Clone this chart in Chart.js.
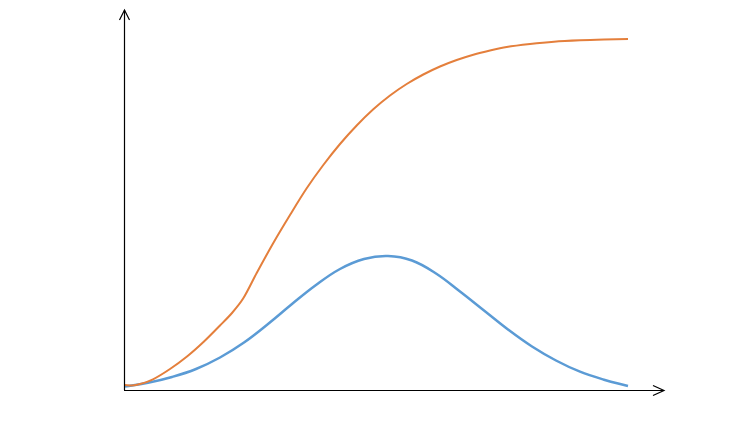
<!DOCTYPE html>
<html>
<head>
<meta charset="utf-8">
<script src="https://cdn.jsdelivr.net/npm/chart.js@4"></script>
<style>
html,body{margin:0;padding:0;background:#fff;}
#wrap{width:735px;height:432px;}
</style>
</head>
<body>
<div id="wrap"><canvas id="c" width="735" height="432"></canvas></div>
<script>
// Values (x along the horizontal axis, y up the vertical axis)
const blueX = [1, 24, 48, 72, 96, 120, 144, 168, 192, 216, 240, 264, 288, 312, 336, 360, 384, 408, 432, 456, 480, 504];
const blueY = [3.5, 7.2, 13, 21, 32.5, 47.5, 66, 86, 105, 121, 131, 134, 129.5, 116.5, 98.5, 79.5, 60.5, 43.5, 29.5, 18.3, 10.3, 4];
const orangeX = [1, 8, 16, 29, 46, 63, 80, 96, 108, 119.3, 132.7, 149.3, 166, 182.7, 199.3, 216, 232.7, 249.3, 266, 282.7, 299.3, 316, 332.7, 349.3, 366, 382.7, 406, 430, 456, 480, 504];
const orangeY = [5, 4.5, 6, 10.7, 21, 33.5, 48.5, 64.5, 77, 91.7, 117, 147, 175, 201.7, 225, 246, 264.5, 280.7, 294.5, 306, 315.5, 323.5, 330, 335.3, 339.5, 343, 346, 348.3, 349.7, 350.5, 351];
const xMax = 540;
const yMax = 380;

const toPts = (xs, ys) => xs.map((x, i) => ({x: x, y: ys[i]}));

const arrowAxes = {
  id: 'arrowAxes',
  afterDraw(chart) {
    const {ctx, chartArea: a} = chart;
    ctx.save();
    ctx.strokeStyle = '#000';
    ctx.lineWidth = 1.2;
    ctx.beginPath();
    ctx.moveTo(a.left + 0.5, a.bottom);
    ctx.lineTo(a.left + 0.5, a.top);
    ctx.moveTo(a.left, a.bottom + 0.5);
    ctx.lineTo(a.right, a.bottom + 0.5);
    ctx.stroke();
    ctx.beginPath();
    ctx.moveTo(a.left + 0.5 - 5, a.top + 10);
    ctx.lineTo(a.left + 0.5, a.top);
    ctx.lineTo(a.left + 0.5 + 5, a.top + 10);
    ctx.moveTo(a.right - 11, a.bottom + 0.5 - 5);
    ctx.lineTo(a.right, a.bottom + 0.5);
    ctx.lineTo(a.right - 11, a.bottom + 0.5 + 5);
    ctx.stroke();
    ctx.restore();
  }
};

new Chart(document.getElementById('c'), {
  type: 'line',
  data: {
    datasets: [
      {
        data: toPts(orangeX, orangeY),
        borderColor: '#E47F3C',
        borderWidth: 2,
        pointRadius: 0,
        tension: 0.3,
        fill: false
      },
      {
        data: toPts(blueX, blueY),
        borderColor: '#5B9BD5',
        borderWidth: 2.5,
        pointRadius: 0,
        tension: 0.4,
        fill: false
      }
    ]
  },
  options: {
    responsive: false,
    animation: false,
    maintainAspectRatio: false,
    layout: {padding: {left: 124, right: 71, top: 10, bottom: 42}},
    plugins: {legend: {display: false}, tooltip: {enabled: false}},
    scales: {
      x: {type: 'linear', min: 0, max: xMax, display: false},
      y: {type: 'linear', min: 0, max: yMax, display: false}
    }
  },
  plugins: [arrowAxes]
});
</script>
</body>
</html>
